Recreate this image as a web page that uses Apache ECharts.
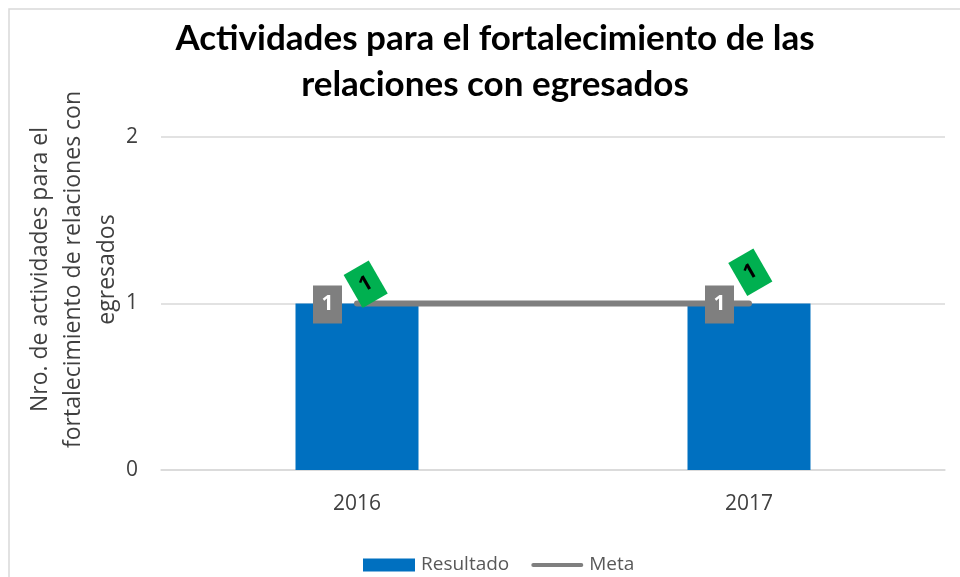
<!DOCTYPE html>
<html><head><meta charset="utf-8"><style>html,body{margin:0;padding:0;background:#fff}#c{width:960px;height:577px}</style>
<script src="https://cdn.jsdelivr.net/npm/echarts@6/dist/echarts.min.js"></script></head>
<body><div id="c"></div><script>
const categories=['2016','2017'];
const resultado=[1,1];
const meta=[1,1];
const yTicks=[0,1,2];
const titleText='Actividades para el fortalecimiento de las\nrelaciones con egresados';
const yName='Nro. de actividades para el\nfortalecimiento de relaciones con\negresados';
const font='"Open Sans"';
const metaLabelOffsets=[[14.4,11.4],[14,-2.6]];
const chart=echarts.init(document.getElementById('c'),null,{renderer:'canvas'});
chart.setOption({
 animation:false,
 backgroundColor:'#fff',
 graphic:[{type:'rect',silent:true,z:-1,shape:{x:9,y:9,width:1000,height:1000},style:{fill:'#fff',stroke:'#d9d9d9',lineWidth:1.5}}],
 title:{text:titleText,left:490,top:11,textAlign:'center',textStyle:{fontFamily:'Lato',fontWeight:'bold',fontSize:35,lineHeight:46,color:'#000'}},
 grid:{left:161,right:15,top:137,bottom:107,outerBoundsMode:'none'},
 legend:{top:550.5,left:358,itemWidth:52,itemHeight:13,itemGap:22,textStyle:{fontFamily:font,fontSize:19,color:'#595959',padding:[0,0,0,1]},
  data:[{name:'Resultado',icon:'rect'},{name:'Meta',icon:'path://M2 0H50A2 2 0 0 1 50 4H2A2 2 0 0 1 2 0Z',itemStyle:{color:'#7f7f7f'}}]},
 xAxis:{type:'category',data:categories,axisTick:{show:false},axisLine:{lineStyle:{color:'#d9d9d9',width:1.5}},axisLabel:{fontFamily:font,fontSize:21,color:'#404040',margin:24}},
 yAxis:{type:'value',min:yTicks[0],max:yTicks[2],interval:1,name:yName,nameLocation:'middle',nameRotate:90,nameGap:37,nameMoveOverlap:false,
  nameTextStyle:{fontFamily:font,fontSize:23,lineHeight:33.5,color:'#404040',padding:[0,0,0,68]},
  axisLine:{show:false},axisTick:{show:false},splitLine:{lineStyle:{color:'#d9d9d9',width:1.5}},axisLabel:{fontFamily:font,fontSize:21,color:'#404040',margin:23}},
 series:[
  {name:'Resultado',type:'bar',data:resultado,barWidth:123,barGap:'-100%',itemStyle:{color:'#0070c0'},z:2},
  {name:'Meta',type:'line',data:meta.map((v,i)=>({value:v,label:{offset:metaLabelOffsets[i]}})),symbol:'circle',symbolSize:1,itemStyle:{color:'#7f7f7f'},lineStyle:{color:'#7f7f7f',width:6,cap:'round'},z:3,
   label:{show:true,position:'top',rotate:30,formatter:'{c}',fontFamily:font,fontWeight:'bold',fontSize:21,color:'#000',backgroundColor:'#00b050',width:29,height:38,lineHeight:38,align:'center',padding:0}},
  {name:'Etiqueta Resultado',type:'bar',data:resultado,barWidth:123,barGap:'-100%',itemStyle:{color:'transparent'},z:5,
   label:{show:true,position:'top',offset:[-29.5,25],formatter:'{c}',fontFamily:font,fontWeight:'bold',fontSize:21,color:'#fff',backgroundColor:'#7f7f7f',width:29,height:38,lineHeight:38,align:'center',padding:0}}
 ]
});
</script></body></html>
